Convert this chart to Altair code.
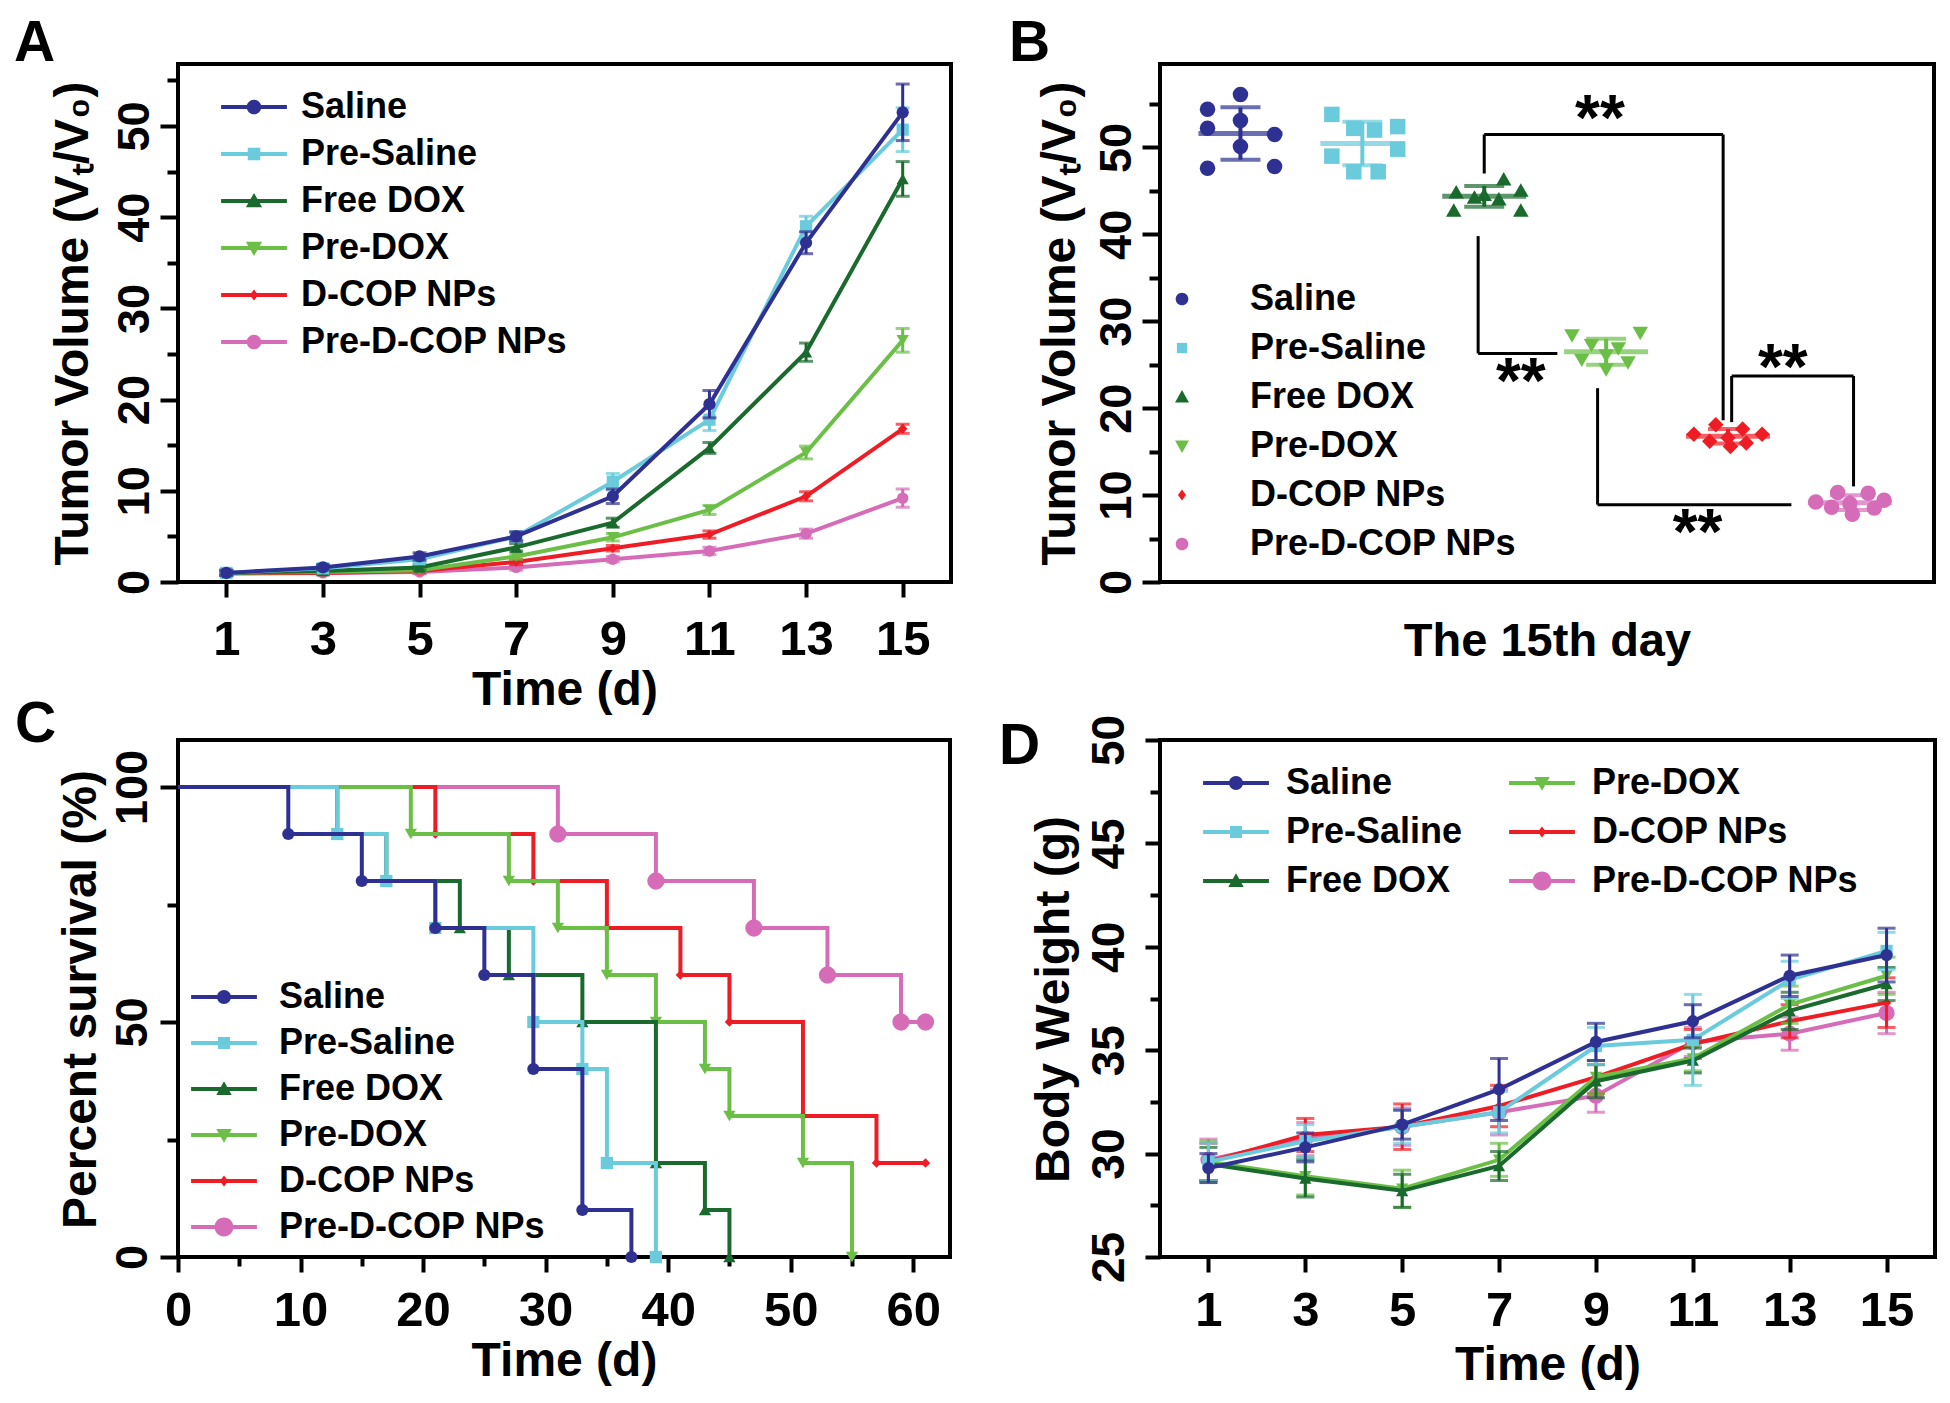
import altair as alt
import pandas as pd

FONT = "Liberation Sans"

GROUPS = ["Saline", "Pre-Saline", "Free DOX", "Pre-DOX", "D-COP NPs", "Pre-D-COP NPs"]
COLORS = ["#2E3192", "#6ACBDC", "#1A6A2E", "#6BBF47", "#EE1D25", "#D66CB8"]
MARKERS = ["circle", "square", "triangle-up", "triangle-down", "diamond", "circle"]
LETTERS = ["A", "B", "C", "D"]

# ---------------- Panel A: tumour volume vs time ----------------
DAYS = [1, 3, 5, 7, 9, 11, 13, 15]
A_MEAN = {
    "Saline":        [1.0, 1.6, 2.8, 5.0, 9.4, 19.5, 37.2, 51.5],
    "Pre-Saline":    [1.0, 1.5, 2.5, 5.0, 11.0, 17.8, 39.0, 49.6],
    "Free DOX":      [1.0, 1.2, 1.6, 3.8, 6.5, 14.7, 25.2, 44.2],
    "Pre-DOX":       [1.0, 1.1, 1.3, 2.8, 4.9, 7.9, 14.2, 26.5],
    "D-COP NPs":     [1.0, 1.0, 1.2, 2.2, 3.7, 5.2, 9.4, 16.8],
    "Pre-D-COP NPs": [0.9, 1.0, 1.1, 1.6, 2.5, 3.4, 5.3, 9.2],
}
A_ERR = {
    "Saline":        [0.3, 0.3, 0.4, 0.5, 0.8, 1.5, 1.2, 3.1],
    "Pre-Saline":    [0.3, 0.3, 0.3, 0.4, 0.9, 1.2, 1.1, 2.4],
    "Free DOX":      [0.2, 0.2, 0.3, 0.4, 0.5, 0.6, 1.0, 1.9],
    "Pre-DOX":       [0.2, 0.2, 0.2, 0.3, 0.4, 0.5, 0.7, 1.3],
    "D-COP NPs":     [0.2, 0.2, 0.2, 0.3, 0.3, 0.4, 0.5, 0.5],
    "Pre-D-COP NPs": [0.2, 0.2, 0.2, 0.3, 0.3, 0.4, 0.5, 1.0],
}

# ---------------- Panel B: individual values on day 15 ----------------
B_DX = {
    "Saline":        [-0.27, 0.0, 0.0, -0.27, 0.28, 0.0, -0.27, 0.28],
    "Pre-Saline":    [-0.25, -0.07, 0.10, 0.29, -0.25, 0.29, -0.07, 0.13],
    "Free DOX":      [0.16, -0.23, 0.30, -0.08, 0.12, -0.25, 0.30, 0.0],
    "Pre-DOX":       [-0.28, 0.28, -0.12, 0.10, 0.0, -0.20, 0.18, 0.0],
    "D-COP NPs":     [-0.28, 0.28, -0.10, 0.12, 0.0, -0.15, 0.15, 0.02],
    "Pre-D-COP NPs": [-0.28, 0.28, -0.10, 0.15, 0.0, -0.15, 0.20, 0.02],
}
B_VAL = {
    "Saline":        [54.4, 56.1, 53.1, 52.2, 51.5, 50.1, 47.6, 47.8],
    "Pre-Saline":    [53.8, 52.2, 52.0, 52.4, 49.0, 49.8, 47.2, 47.2],
    "Free DOX":      [46.4, 44.9, 45.1, 44.3, 44.1, 42.8, 42.8, 44.6],
    "Pre-DOX":       [28.3, 28.6, 27.2, 26.8, 26.0, 25.5, 25.2, 24.4],
    "D-COP NPs":     [17.0, 17.0, 18.1, 17.6, 16.6, 16.2, 16.0, 15.6],
    "Pre-D-COP NPs": [9.2, 9.4, 10.3, 10.2, 9.0, 8.6, 8.5, 7.8],
}
# significance brackets (category position, value)
BR_X1 = [2.00, 2.00, 3.96, 1.95, 1.95, 4.03, 4.03, 5.03, 2.93, 2.93]
BR_Y1 = [47.0, 51.5, 51.5, 39.8, 26.3, 18.4, 23.7, 23.7, 22.3, 8.9]
BR_X2 = [2.00, 3.96, 3.96, 1.95, 2.60, 4.03, 5.03, 5.03, 2.93, 4.52]
BR_Y2 = [51.5, 51.5, 18.6, 26.3, 26.3, 23.7, 23.7, 11.0, 8.9, 8.9]
STAR_X = [2.95, 2.30, 4.45, 3.75]
STAR_Y = [53.0, 22.8, 24.4, 5.4]
STAR_TEXT = ["**", "**", "**", "**"]

# ---------------- Panel C: survival ----------------
C_T = {
    "Saline":        [0, 9, 15, 21, 25, 29, 33, 37],
    "Pre-Saline":    [0, 13, 17, 21, 29, 33, 35, 39],
    "Free DOX":      [0, 13, 17, 23, 27, 33, 39, 43, 45],
    "Pre-DOX":       [0, 19, 27, 31, 35, 39, 43, 45, 51, 55],
    "D-COP NPs":     [0, 21, 29, 35, 41, 45, 51, 57, 61],
    "Pre-D-COP NPs": [0, 31, 39, 47, 53, 59, 61],
}
C_S = {
    "Saline":        [100, 90, 80, 70, 60, 40, 10, 0],
    "Pre-Saline":    [100, 90, 80, 70, 50, 40, 20, 0],
    "Free DOX":      [100, 90, 80, 70, 60, 50, 20, 10, 0],
    "Pre-DOX":       [100, 90, 80, 70, 60, 50, 40, 30, 20, 0],
    "D-COP NPs":     [100, 90, 80, 70, 60, 50, 30, 20, 20],
    "Pre-D-COP NPs": [100, 90, 80, 70, 60, 50, 50],
}

# ---------------- Panel D: body weight ----------------
D_MEAN = {
    "Saline":        [29.3, 30.3, 31.4, 33.1, 35.4, 36.4, 38.6, 39.6],
    "Pre-Saline":    [29.6, 30.6, 31.3, 32.0, 35.2, 35.5, 38.4, 39.8],
    "Free DOX":      [29.5, 28.8, 28.2, 29.4, 33.5, 34.5, 36.9, 38.2],
    "Pre-DOX":       [29.6, 28.9, 28.3, 29.7, 33.7, 34.6, 37.2, 38.6],
    "D-COP NPs":     [29.6, 30.9, 31.3, 32.3, 33.7, 35.3, 36.4, 37.3],
    "Pre-D-COP NPs": [29.7, 30.7, 31.3, 32.0, 32.8, 35.4, 35.8, 36.8],
}
D_ERR = {
    "Saline":        [0.7, 0.7, 0.7, 1.5, 0.9, 0.8, 1.0, 1.3],
    "Pre-Saline":    [0.9, 0.8, 0.8, 1.0, 0.9, 2.2, 0.9, 0.9],
    "Free DOX":      [0.8, 0.9, 0.8, 0.7, 0.8, 0.6, 0.9, 0.8],
    "Pre-DOX":       [1.0, 0.9, 0.9, 0.8, 0.8, 0.6, 0.9, 0.9],
    "D-COP NPs":     [0.9, 0.8, 1.1, 1.0, 0.8, 0.7, 0.8, 1.2],
    "Pre-D-COP NPs": [1.0, 0.8, 0.9, 1.1, 0.8, 0.7, 0.8, 1.0],
}

W, H = 773, 518


# ---------- helpers ----------
def legend_path(marker, r=1.0, line=True):
    p = "M-4.7,-0.3H4.7V0.3H-4.7Z" if line else ""
    if marker == "circle":
        p += f"M{-r},0A{r},{r},0,1,1,{r},0A{r},{r},0,1,1,{-r},0Z"
    elif marker == "square":
        a = 0.85 * r
        p += f"M{-a},{-a}H{a}V{a}H{-a}Z"
    elif marker == "triangle-up":
        p += f"M0,{-1.1 * r}L{1.1 * r},{0.85 * r}H{-1.1 * r}Z"
    elif marker == "triangle-down":
        p += f"M{-1.1 * r},{-0.85 * r}H{1.1 * r}L0,{1.1 * r}Z"
    elif marker == "diamond":
        p += f"M0,{-r}L{0.75 * r},0L0,{r}L{-0.75 * r},0Z"
    return p


def legend_layer(field, domain, colors, paths, **kw):
    df = pd.DataFrame({field: domain})
    leg = alt.Legend(title=None, orient="none", padding=0, labelLimit=800,
                     symbolStrokeWidth=0, symbolOffset=0, **kw)
    return alt.Chart(df).mark_point(filled=True, opacity=1, clip=True, strokeWidth=0).encode(
        x=alt.value(-500), y=alt.value(-500),
        color=alt.Color(f"{field}:N", scale=alt.Scale(domain=domain, range=colors), legend=leg, sort=domain),
        shape=alt.Shape(f"{field}:N", scale=alt.Scale(domain=domain, range=paths), legend=leg, sort=domain),
    )


def letter_layer(letter, dx, dy):
    return alt.Chart(pd.DataFrame({"t": [letter]})).mark_text(
        font=FONT, fontSize=57, fontWeight="bold", align="left", baseline="alphabetic", color="black"
    ).encode(text="t:N", x=alt.value(dx), y=alt.value(dy))


def y_axis(title, values, step, major, minor, title_x, label_size=45, label_pad=12):
    return alt.Axis(
        title=title, values=values,
        labelExpr=f"datum.value % {step} === 0 ? datum.label : ''",
        tickSize={"condition": {"test": f"datum.value % {step} === 0", "value": major}, "value": minor},
        labelAngle=270, labelAlign="center", labelBaseline="alphabetic",
        labelFontSize=label_size, labelPadding=label_pad, labelFlush=False, labelOverlap=False,
        titleFontSize=48, titleAngle=270, titleAlign="center", titleBaseline="bottom",
        titleX=title_x, titleY=H / 2,
    )


def x_axis(title, values, step, major, minor, label_pad=18, title_pad=2):
    return alt.Axis(
        title=title, values=values,
        labelExpr=f"datum.value % {step} === 0 ? datum.label : ''",
        tickSize={"condition": {"test": f"datum.value % {step} === 0", "value": major}, "value": minor},
        labelAngle=0, labelFontSize=49, labelPadding=label_pad, labelFlush=False, labelOverlap=False,
        titleFontSize=48, titlePadding=title_pad,
    )


def long_df(mean, err, xs):
    rows = []
    for g in GROUPS:
        for x, m, e in zip(xs, mean[g], err[g]):
            rows.append({"group": g, "x": x, "m": m, "e": e})
    return pd.DataFrame(rows)


def series_panel(df, X, Y, sizes, cap):
    layers = []
    for g, c, mk, sz in reversed(list(zip(GROUPS, COLORS, MARKERS, sizes))):
        base = alt.Chart(df).transform_filter(alt.datum.group == g).transform_calculate(
            lo="datum.m - datum.e", hi="datum.m + datum.e")
        layers.append(base.mark_line(color=c, strokeWidth=4).encode(x=X, y=Y))
        layers.append(base.mark_rule(color=c, strokeWidth=3).encode(x=X, y="lo:Q", y2="hi:Q"))
        layers.append(base.mark_tick(color=c, orient="horizontal", size=cap, thickness=3).encode(x=X, y="hi:Q"))
        layers.append(base.mark_tick(color=c, orient="horizontal", size=cap, thickness=3).encode(x=X, y="lo:Q"))
        layers.append(base.mark_point(shape=mk, filled=True, color=c, size=sz, opacity=1).encode(x=X, y=Y))
    return layers


# ---------------- Panel A ----------------
dfA = long_df(A_MEAN, A_ERR, DAYS)
XA = alt.X("x:Q", scale=alt.Scale(domain=[0, 16], nice=False, zero=False),
           axis=x_axis("Time (d)", DAYS, 1, 15, 15))
YA = alt.Y("m:Q", scale=alt.Scale(domain=[0, 56.8], nice=False),
           axis=y_axis("Tumor Volume (V\u209c/V\u2080)", list(range(0, 56, 5)), 10, 18, 11, -81))
layersA = series_panel(dfA, XA, YA, [150, 150, 150, 150, 90, 130], 14)
layersA.append(legend_layer("nameA", GROUPS, COLORS,
                            [legend_path(m, r) for m, r in zip(MARKERS, [1.05, 1.05, 1.05, 1.05, 0.8, 1.05])],
                            legendX=58, legendY=25, symbolSize=196, labelOffset=29, rowPadding=11))
layersA.append(letter_layer(LETTERS[0], -164, -3))
panelA = alt.layer(*layersA).properties(width=W, height=H)

# ---------------- Panel B ----------------
rowsB = []
for i, g in enumerate(GROUPS):
    for dx, v in zip(B_DX[g], B_VAL[g]):
        rowsB.append({"group": g, "idx": i, "dx": dx, "v": v})
dfB = pd.DataFrame(rowsB)
dfBr = pd.DataFrame({"x1": BR_X1, "y1": BR_Y1, "x2": BR_X2, "y2": BR_Y2})
dfStar = pd.DataFrame({"x": STAR_X, "y": STAR_Y, "t": STAR_TEXT})

xscaleB = alt.Scale(domain=[-0.66, 5.69], nice=False, zero=False)
yscaleB = alt.Scale(domain=[0, 59.6], nice=False)
axXB = alt.Axis(title="The 15th day", labels=False, ticks=False, titleFontSize=47, titlePadding=36)
axYB = y_axis("Tumor Volume (V\u209c/V\u2080)", list(range(0, 56, 5)), 10, 18, 11, -76)

layersB = []
layersB.append(alt.Chart(dfBr).mark_rule(color="black", strokeWidth=3).encode(
    x=alt.X("x1:Q", scale=xscaleB, axis=axXB), y=alt.Y("y1:Q", scale=yscaleB, axis=axYB),
    x2="x2:Q", y2="y2:Q"))
for g, c, mk in zip(GROUPS, COLORS, MARKERS):
    base = alt.Chart(dfB).transform_filter(alt.datum.group == g)
    layersB.append(base.transform_calculate(xp="datum.idx + datum.dx").mark_point(
        shape=mk, filled=True, color=c, size=240, opacity=1).encode(
        x=alt.X("xp:Q", scale=xscaleB, axis=axXB), y=alt.Y("v:Q", scale=yscaleB, axis=axYB)))
    agg = base.transform_aggregate(mv="mean(v)", sd="stdev(v)", groupby=["idx"]).transform_calculate(
        lo="datum.mv - datum.sd", hi="datum.mv + datum.sd")
    layersB.append(agg.mark_tick(color=c, orient="horizontal", size=84, thickness=5).encode(
        x=alt.X("idx:Q", scale=xscaleB, axis=axXB), y=alt.Y("mv:Q", scale=yscaleB, axis=axYB)))
    layersB.append(agg.mark_rule(color=c, strokeWidth=4).encode(
        x=alt.X("idx:Q", scale=xscaleB, axis=axXB), y=alt.Y("lo:Q", scale=yscaleB, axis=axYB), y2="hi:Q"))
    for f in ["lo", "hi"]:
        layersB.append(agg.mark_tick(color=c, orient="horizontal", size=40, thickness=4).encode(
            x=alt.X("idx:Q", scale=xscaleB, axis=axXB), y=alt.Y(f"{f}:Q", scale=yscaleB, axis=axYB)))
layersB.append(alt.Chart(dfStar).mark_text(font=FONT, fontSize=64, fontWeight="bold", color="black",
                                           baseline="middle", align="center").encode(
    x=alt.X("x:Q", scale=xscaleB, axis=axXB), y=alt.Y("y:Q", scale=yscaleB, axis=axYB), text="t:N"))
layersB.append(legend_layer("nameB", GROUPS, COLORS,
                            [legend_path(m, r, line=False) for m, r in zip(MARKERS, [1, 0.95, 1, 1, 0.85, 1])],
                            legendX=4, legendY=217, symbolSize=160, labelOffset=50, rowPadding=13))
layersB.append(letter_layer(LETTERS[1], -151, -3))
panelB = alt.layer(*layersB).properties(width=W + 1, height=H)

# ---------------- Panel C ----------------
rowsC = []
for g in GROUPS:
    for t, s in zip(C_T[g], C_S[g]):
        rowsC.append({"group": g, "t": t, "s": s})
dfC = pd.DataFrame(rowsC)
XC = alt.X("t:Q", scale=alt.Scale(domain=[0, 63], nice=False, zero=False),
           axis=x_axis("Time (d)", list(range(0, 61, 5)), 10, 15, 9, label_pad=14, title_pad=2))
YC = alt.Y("s:Q", scale=alt.Scale(domain=[0, 110], nice=False),
           axis=y_axis("Percent survival (%)", [0, 25, 50, 75, 100], 50, 18, 11, -73, label_pad=14))
layersC = []
c_sizes = [150, 150, 150, 150, 90, 300]
for g, c, mk, sz in reversed(list(zip(GROUPS, COLORS, MARKERS, c_sizes))):
    base = alt.Chart(dfC).transform_filter(alt.datum.group == g)
    layersC.append(base.mark_line(color=c, strokeWidth=4, interpolate="step-after").encode(x=XC, y=YC))
    layersC.append(base.transform_filter(alt.datum.t > 0).mark_point(
        shape=mk, filled=True, color=c, size=sz, opacity=1).encode(x=XC, y=YC))
layersC.append(legend_layer("nameC", GROUPS, COLORS,
                            [legend_path(m, r) for m, r in zip(MARKERS, [1, 1, 1, 1, 0.8, 1.35])],
                            legendX=28, legendY=239, symbolSize=196, labelOffset=37, rowPadding=10))
layersC.append(letter_layer(LETTERS[2], -163, 2))
panelC = alt.layer(*layersC).properties(width=W - 1, height=H - 1)

# ---------------- Panel D ----------------
dfD = long_df(D_MEAN, D_ERR, DAYS)
XD = alt.X("x:Q", scale=alt.Scale(domain=[0, 16], nice=False, zero=False),
           axis=x_axis("Time (d)", DAYS, 1, 15, 15, label_pad=14, title_pad=6))
YD = alt.Y("m:Q", scale=alt.Scale(domain=[25, 50], nice=False, zero=False),
           axis=y_axis("Body Weight (g)", [25, 27.5, 30, 32.5, 35, 37.5, 40, 42.5, 45, 47.5, 50],
                       5, 15, 10, -82, label_size=46, label_pad=22))
layersD = series_panel(dfD, XD, YD, [150, 150, 150, 150, 90, 260], 18)
layersD.append(legend_layer("nameD", GROUPS, COLORS,
                            [legend_path(m, r) for m, r in zip(MARKERS, [1, 1, 1, 1, 0.8, 1.35])],
                            legendX=58, legendY=25, symbolSize=196, labelOffset=32, rowPadding=13,
                            columns=2, columnPadding=46))
layersD.append(letter_layer(LETTERS[3], -161, 24))
panelD = alt.layer(*layersD).properties(width=W + 2, height=H - 1)

chart = alt.concat(
    panelA, panelB, panelC, panelD, columns=2,
    spacing={"row": 158, "column": 209}, bounds="flush",
).resolve_scale(
    x="independent", y="independent", color="independent", shape="independent"
).properties(
    padding={"left": 4, "top": 5, "right": 5, "bottom": 5}
).configure(font=FONT).configure_view(
    stroke="black", strokeWidth=4
).configure_axis(
    domain=False, grid=False, tickColor="black", tickWidth=4,
    labelColor="black", titleColor="black", labelFont=FONT, titleFont=FONT,
    labelFontWeight="bold", titleFontWeight="bold",
).configure_legend(
    labelFont=FONT, labelFontSize=36, labelFontWeight="bold", labelColor="black"
)

chart.save("out.html", embed_options={"renderer": "svg", "actions": False})
